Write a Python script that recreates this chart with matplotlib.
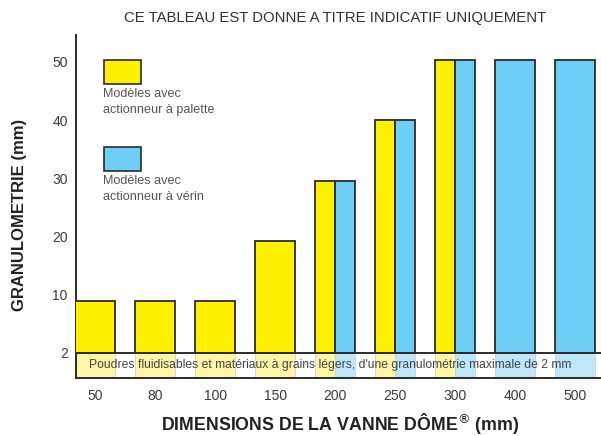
import numpy as np
import matplotlib
matplotlib.use('Agg')
import matplotlib.pyplot as plt
from matplotlib.patches import Rectangle

plt.rcParams['font.family'] = ['Liberation Sans', 'DejaVu Sans']

# diameters of the valve (mm)
sizes = ['50', '80', '100', '150', '200', '250', '300', '400', '500']
# max granulometry (mm), None = model not available
palette = [9, 9, 9, 19.3, 29.6, 40, 50.3, None, None]
verin = [None, None, None, None, 29.6, 40, 50.3, 50.3, 50.3]
yticks = [0, 10, 20, 30, 40, 50]
ytick_labels = ['2', '10', '20', '30', '40', '50']

title = 'CE TABLEAU EST DONNE A TITRE INDICATIF UNIQUEMENT'
band_text = ("Poudres fluidisables et matériaux à grains légers, "
             "d'une granulométrie maximale de 2 mm")

YELLOW = '#fff000'
BLUE = '#6dcff6'
LYELLOW = '#fff6a6'
LBLUE = '#bde6f8'
EDGE = '#2b2b2b'

W, H = 601, 436
fig = plt.figure(figsize=(W / 100, H / 100), dpi=100)
ax = fig.add_axes([76 / W, (H - 378) / H, (601 - 76) / W, (378 - 35) / H])

band_bottom = -4.3
width = 0.667
x = np.arange(len(sizes))

for i in x:
    p, v = palette[i], verin[i]
    if p is not None and v is not None:
        bars = [(i - width / 2, width / 2, p, YELLOW, LYELLOW),
                (i, width / 2, v, BLUE, LBLUE)]
    elif p is not None:
        bars = [(i - width / 2, width, p, YELLOW, LYELLOW)]
    else:
        bars = [(i - width / 2, width, v, BLUE, LBLUE)]
    for left, w, h, c, lc in bars:
        ax.bar(left, h, width=w, align='edge', color=c, edgecolor=EDGE,
               linewidth=1.3, zorder=3)
        # light shading in the bottom band
        ax.add_patch(Rectangle((left, band_bottom), w, -band_bottom,
                               facecolor=lc, edgecolor='#d0d0d0',
                               linewidth=0.6, zorder=1))

ax.axhline(0, color=EDGE, linewidth=1.4, zorder=4)
ax.text(3.92, band_bottom / 2, band_text, ha='center', va='center',
        fontsize=8.7, color='#444444', zorder=5)

ax.set_xlim(-0.317, 8.43)
ax.set_ylim(band_bottom, 54.6)
ax.set_xticks(x)
ax.set_xticklabels(sizes)
ax.set_yticks(yticks)
ax.set_yticklabels(ytick_labels)
ax.tick_params(length=0, labelsize=10, labelcolor='#3a3a3a')
ax.tick_params(axis='x', pad=8)
ax.tick_params(axis='y', pad=6)
for s in ['top', 'right']:
    ax.spines[s].set_visible(False)
for s in ['left', 'bottom']:
    ax.spines[s].set_color(EDGE)
    ax.spines[s].set_linewidth(1.4)

# legend drawn by hand, in pixel positions of the figure
def px(xp, yp):
    return xp / W, 1 - yp / H

for (y0, c, lines) in [(60, YELLOW, 'Modèles avec\nactionneur à palette'),
                       (147, BLUE, 'Modèles avec\nactionneur à vérin')]:
    fx, fy = px(104, y0 + 24)
    fig.patches.append(Rectangle((fx, fy), 37 / W, 24 / H, facecolor=c,
                                 edgecolor=EDGE, linewidth=1.2,
                                 transform=fig.transFigure, figure=fig))
    tx, ty = px(103, y0 + 28)
    fig.text(tx, ty, lines, ha='left', va='top', fontsize=9.1,
             color='#555555', linespacing=1.45)

fig.text(*px(335, 18), title, ha='center', va='center', fontsize=10.7,
         color='#333333')
fig.text(*px(20, 215), 'GRANULOMETRIE (mm)', ha='center', va='center',
         rotation=90, fontsize=12, fontweight='bold', color='#222222')
fig.text(*px(340, 430), r'DIMENSIONS DE LA VANNE DÔME$^{\circledR}$ (mm)',
         ha='center', va='baseline', fontsize=12.8, fontweight='bold',
         color='#222222')

fig.savefig('out.png', dpi=100)
